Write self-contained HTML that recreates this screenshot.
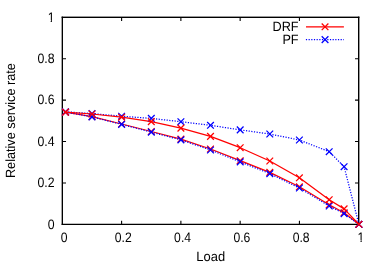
<!DOCTYPE html>
<html><head><meta charset="utf-8"><title>chart</title>
<style>html,body{margin:0;padding:0;background:#fff;overflow:hidden}body{width:382px;height:267px;position:relative;font-family:"Liberation Sans",sans-serif}</style>
</head><body>
<svg width="382" height="267" viewBox="0 0 382 267" style="position:absolute;left:0;top:0">
<rect width="382" height="267" fill="#fff"/>
<g fill="#000">
<rect x="61.65" y="16.6" width="1.35" height="208.40"/>
<rect x="358.0" y="16.6" width="1.40" height="208.40"/>
<rect x="61.65" y="16.6" width="297.75" height="1.40"/>
<rect x="61.65" y="223.75" width="297.75" height="1.25"/>
</g>
<path d="M62.33 182.96h3.7M358.70 182.96h-3.7M121.60 224.38v-3.7M121.60 17.30v3.7M62.33 141.55h3.7M358.70 141.55h-3.7M180.88 224.38v-3.7M180.88 17.30v3.7M62.33 100.13h3.7M358.70 100.13h-3.7M240.15 224.38v-3.7M240.15 17.30v3.7M62.33 58.72h3.7M358.70 58.72h-3.7M299.43 224.38v-3.7M299.43 17.30v3.7" stroke="#000" stroke-width="1.1" fill="none"/>
<polyline points="65.50,112.10 92.00,116.70 121.60,124.00 151.30,131.50 180.90,139.10 210.50,149.00 240.20,160.70 269.80,172.40 299.40,186.80 329.20,204.80 344.10,212.70 358.90,224.30" fill="none" stroke="#ff0000" stroke-width="1.25" stroke-linejoin="round"/>
<path d="M62.15 108.75L68.85 115.45M62.15 115.45L68.85 108.75M88.65 113.35L95.35 120.05M88.65 120.05L95.35 113.35M118.25 120.65L124.95 127.35M118.25 127.35L124.95 120.65M147.95 128.15L154.65 134.85M147.95 134.85L154.65 128.15M177.55 135.75L184.25 142.45M177.55 142.45L184.25 135.75M207.15 145.65L213.85 152.35M207.15 152.35L213.85 145.65M236.85 157.35L243.55 164.05M236.85 164.05L243.55 157.35M266.45 169.05L273.15 175.75M266.45 175.75L273.15 169.05M296.05 183.45L302.75 190.15M296.05 190.15L302.75 183.45M325.85 201.45L332.55 208.15M325.85 208.15L332.55 201.45M340.75 209.35L347.45 216.05M340.75 216.05L347.45 209.35M355.55 220.95L362.25 227.65M355.55 227.65L362.25 220.95" fill="none" stroke="#ff0000" stroke-width="1.25"/>
<polyline points="65.50,112.10 92.00,116.90 121.60,124.40 151.30,132.10 180.90,139.90 210.50,150.00 240.20,161.90 269.80,173.60 299.40,188.00 329.20,206.00 344.10,213.60 358.90,224.30" fill="none" stroke="#0000ff" stroke-width="1.25" stroke-dasharray="1.2 1.47" stroke-linejoin="round"/>
<path d="M62.15 108.75L68.85 115.45M62.15 115.45L68.85 108.75M88.65 113.55L95.35 120.25M88.65 120.25L95.35 113.55M118.25 121.05L124.95 127.75M118.25 127.75L124.95 121.05M147.95 128.75L154.65 135.45M147.95 135.45L154.65 128.75M177.55 136.55L184.25 143.25M177.55 143.25L184.25 136.55M207.15 146.65L213.85 153.35M207.15 153.35L213.85 146.65M236.85 158.55L243.55 165.25M236.85 165.25L243.55 158.55M266.45 170.25L273.15 176.95M266.45 176.95L273.15 170.25M296.05 184.65L302.75 191.35M296.05 191.35L302.75 184.65M325.85 202.65L332.55 209.35M325.85 209.35L332.55 202.65M340.75 210.25L347.45 216.95M340.75 216.95L347.45 210.25M355.55 220.95L362.25 227.65M355.55 227.65L362.25 220.95" fill="none" stroke="#0000ff" stroke-width="1.25"/>
<polyline points="65.50,111.80 92.00,113.60 121.60,116.20 151.30,118.40 180.90,121.70 210.50,125.30 240.20,129.90 269.80,134.00 299.40,140.00 329.20,151.70 344.10,166.70 358.90,224.30" fill="none" stroke="#0000ff" stroke-width="1.25" stroke-dasharray="1.2 1.47" stroke-linejoin="round"/>
<path d="M62.15 108.45L68.85 115.15M62.15 115.15L68.85 108.45M88.65 110.25L95.35 116.95M88.65 116.95L95.35 110.25M118.25 112.85L124.95 119.55M118.25 119.55L124.95 112.85M147.95 115.05L154.65 121.75M147.95 121.75L154.65 115.05M177.55 118.35L184.25 125.05M177.55 125.05L184.25 118.35M207.15 121.95L213.85 128.65M207.15 128.65L213.85 121.95M236.85 126.55L243.55 133.25M236.85 133.25L243.55 126.55M266.45 130.65L273.15 137.35M266.45 137.35L273.15 130.65M296.05 136.65L302.75 143.35M296.05 143.35L302.75 136.65M325.85 148.35L332.55 155.05M325.85 155.05L332.55 148.35M340.75 163.35L347.45 170.05M340.75 170.05L347.45 163.35M355.55 220.95L362.25 227.65M355.55 227.65L362.25 220.95" fill="none" stroke="#0000ff" stroke-width="1.25"/>
<polyline points="65.50,112.10 92.00,114.00 121.60,117.20 151.30,121.60 180.90,128.10 210.50,136.40 240.20,147.70 269.80,161.00 299.40,177.80 329.20,199.70 344.10,208.90 358.90,224.30" fill="none" stroke="#ff0000" stroke-width="1.25" stroke-linejoin="round"/>
<path d="M62.15 108.75L68.85 115.45M62.15 115.45L68.85 108.75M88.65 110.65L95.35 117.35M88.65 117.35L95.35 110.65M118.25 113.85L124.95 120.55M118.25 120.55L124.95 113.85M147.95 118.25L154.65 124.95M147.95 124.95L154.65 118.25M177.55 124.75L184.25 131.45M177.55 131.45L184.25 124.75M207.15 133.05L213.85 139.75M207.15 139.75L213.85 133.05M236.85 144.35L243.55 151.05M236.85 151.05L243.55 144.35M266.45 157.65L273.15 164.35M266.45 164.35L273.15 157.65M296.05 174.45L302.75 181.15M296.05 181.15L302.75 174.45M325.85 196.35L332.55 203.05M325.85 203.05L332.55 196.35M340.75 205.55L347.45 212.25M340.75 212.25L347.45 205.55M355.55 220.95L362.25 227.65M355.55 227.65L362.25 220.95" fill="none" stroke="#ff0000" stroke-width="1.25"/>
<path d="M306.0 26.9H343.9" stroke="#ff0000" stroke-width="1.25"/>
<path d="M321.70 23.45L328.40 30.15M321.70 30.15L328.40 23.45" fill="none" stroke="#ff0000" stroke-width="1.25"/>
<path d="M305.9 39.6H343.9" stroke="#0000ff" stroke-width="1.25" stroke-dasharray="1.2 1.47"/>
<path d="M321.70 36.25L328.40 42.95M321.70 42.95L328.40 36.25" fill="none" stroke="#0000ff" stroke-width="1.25"/>
<g font-family="Liberation Sans, sans-serif" font-size="12.7px" fill="#000" style="will-change:transform;text-rendering:geometricPrecision">
<text transform="translate(54.60 228.97) scale(0.97 1.08)" text-anchor="end">0</text>
<text transform="translate(64.03 241.60) scale(0.96 1.08)" text-anchor="middle">0</text>
<text transform="translate(54.60 187.16) scale(0.97 1.08)" text-anchor="end">0.2</text>
<text transform="translate(123.30 241.60) scale(0.96 1.08)" text-anchor="middle">0.2</text>
<text transform="translate(54.60 145.75) scale(0.97 1.08)" text-anchor="end">0.4</text>
<text transform="translate(182.57 241.60) scale(0.96 1.08)" text-anchor="middle">0.4</text>
<text transform="translate(54.60 104.33) scale(0.97 1.08)" text-anchor="end">0.6</text>
<text transform="translate(241.85 241.60) scale(0.96 1.08)" text-anchor="middle">0.6</text>
<text transform="translate(54.60 62.82) scale(0.97 1.08)" text-anchor="end">0.8</text>
<text transform="translate(301.12 241.60) scale(0.96 1.08)" text-anchor="middle">0.8</text>
<text transform="translate(54.50 21.50) scale(0.97 1.08)" text-anchor="end">1</text><rect x="47.65" y="20.03" width="3.05" height="2.22" fill="#fff"/><rect x="51.89" y="20.03" width="2.66" height="2.22" fill="#fff"/>
<text transform="translate(360.90 241.60) scale(0.96 1.08)" text-anchor="middle">1</text><rect x="357.51" y="240.13" width="3.02" height="2.22" fill="#fff"/><rect x="361.70" y="240.13" width="2.64" height="2.22" fill="#fff"/>
<text transform="translate(210.70 260.50) scale(1.02 1.05)" text-anchor="middle">Load</text>
<text transform="translate(15.30 120.60) rotate(-90) scale(1.0 1.05)" text-anchor="middle">Relative service rate</text>
<text transform="translate(298.60 31.00) scale(1.0 1.05)" text-anchor="end">DRF</text>
<text transform="translate(298.60 43.90) scale(1.0 1.05)" text-anchor="end">PF</text>
</g>
</svg>
</body></html>
